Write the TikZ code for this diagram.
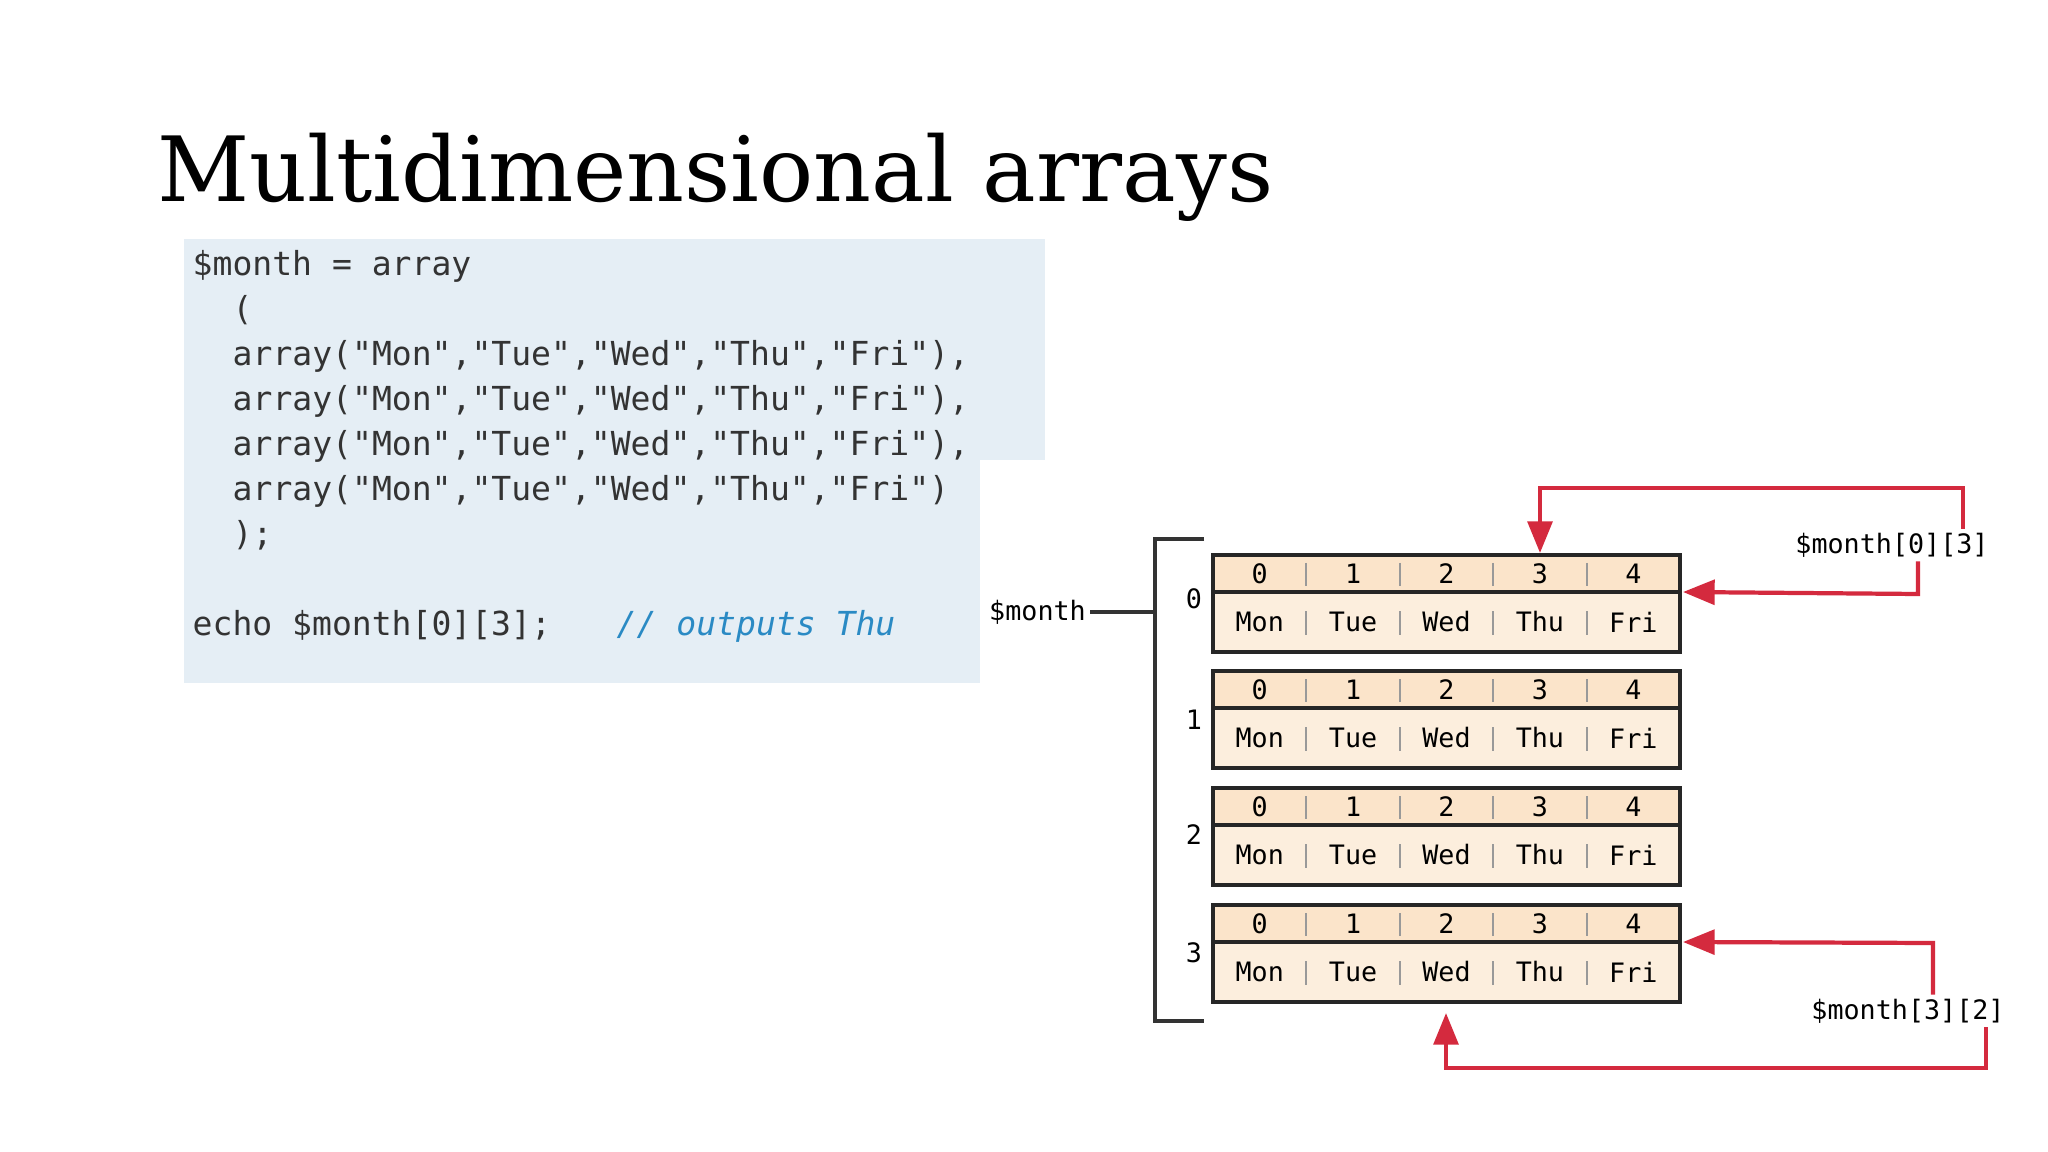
\documentclass[tikz,border=0pt]{standalone}
\usepackage{fontspec}
\newfontfamily\codefont{DejaVu Sans Mono}
\newfontfamily\titlefont{DejaVu Serif}
\usetikzlibrary{arrows.meta}
\definecolor{codebg}{HTML}{E5EEF5}
\definecolor{cmt}{HTML}{2A8AC4}
\definecolor{hdr}{HTML}{FBE4CA}
\definecolor{bod}{HTML}{FCEEDD}
\definecolor{red1}{HTML}{D42A3E}
\definecolor{sep}{HTML}{999999}
\tikzset{
  codeline/.style={anchor=base west, inner sep=0pt, font=\codefont\fontsize{9.4pt}{12pt}\selectfont, text=black!80},
  cell/.style={inner sep=0pt, font=\codefont\fontsize{7.6pt}{9pt}\selectfont},
  lbl/.style={inner sep=1pt, font=\codefont\fontsize{7.6pt}{9pt}\selectfont},
  redarrow/.style={draw=red1, line width=1.2pt, -{Triangle[length=9pt,width=7pt]}},
  bracket/.style={draw=black!80, line width=1.2pt}
}
\begin{document}
\begin{tikzpicture}[x=0.01cm,y=-0.01cm]
\useasboundingbox (0,0) rectangle (2048,1152);
\fill[white] (0,0) rectangle (2048,1152);
% title
\node[anchor=base west, inner sep=0pt, font=\titlefont\fontsize{25.6pt}{30pt}\selectfont] (title) at (157,202) {Multidimensional arrays};
% code background
\fill[codebg] (184,239) rectangle (1045,460);
\fill[codebg] (184,460) rectangle (980,683);
\node[codeline] (c1) at (192,276) {\$month = array};
\node[codeline] (c2) at (232,321) {(};
\node[codeline] (c3) at (232,366) {array("Mon","Tue","Wed","Thu","Fri"),};
\node[codeline] (c4) at (232,411) {array("Mon","Tue","Wed","Thu","Fri"),};
\node[codeline] (c5) at (232,456) {array("Mon","Tue","Wed","Thu","Fri"),};
\node[codeline] (c6) at (232,501) {array("Mon","Tue","Wed","Thu","Fri")};
\node[codeline] (c7) at (232,546) {);};
\node[codeline] (c8) at (192,636) {echo \$month[0][3];};
\node[codeline, text=cmt, font=\codefont\itshape\fontsize{9.4pt}{12pt}\selectfont] (c9) at (616,636) {// outputs Thu};
% arrays
\foreach \r/\t in {0/555,1/671,2/788,3/905}{
  \fill[hdr] (1213,\t) rectangle (1680,\t+37);
  \fill[bod] (1213,\t+37) rectangle (1680,\t+97);
  \draw[black!85, line width=1.1pt] (1213,\t) rectangle (1680,\t+97);
  \draw[black!85, line width=1.1pt] (1213,\t+37) -- (1680,\t+37);
  \foreach \c/\d in {0/Mon,1/Tue,2/Wed,3/Thu,4/Fri}{
    \node[cell] (h\r\c) at (1213+46.7+93.4*\c,\t+19) {\c};
    \node[cell] (d\r\c) at (1213+46.7+93.4*\c,\t+67) {\d};
  }
  \foreach \c in {1,2,3,4}{
    \draw[sep, line width=0.6pt] (1213+93.4*\c,\t+8) -- (1213+93.4*\c,\t+31);
    \draw[sep, line width=0.6pt] (1213+93.4*\c,\t+56) -- (1213+93.4*\c,\t+80);
  }
  \coordinate (top\r) at (1540,\t-2);
  \coordinate (right\r) at (1683,\t+37);
  \coordinate (bot\r) at (1446,\t+108);
}
\node[cell] (i0) at (1194,599) {0};
\node[cell] (i1) at (1194,720) {1};
\node[cell] (i2) at (1194,835) {2};
\node[cell] (i3) at (1194,953) {3};
% bracket
\draw[bracket] (1204,539) -- (1155,539) -- (1155,1021) -- (1204,1021);
\node[lbl, anchor=east] (mon) at (1090,612) {\$month};
\coordinate (bm) at (1155,612);
\draw[bracket] (mon.east) -- (bm);
% labels
\node[lbl] (l03) at (1892,545) {\$month[0][3]};
\node[lbl] (l32) at (1908,1011) {\$month[3][2]};
\draw[redarrow] (l03.north -| 1963,0) -- (1963,488) -- (1540,488) -- (top0);
\draw[redarrow] (l03.south -| 1918,0) -- (1918,594) -- (right0);
\draw[redarrow] (l32.north -| 1933,0) -- (1933,943) -- (right3);
\draw[redarrow] (l32.south -| 1986,0) -- (1986,1068) -- (1446,1068) -- (bot3);
\end{tikzpicture}
\end{document}
